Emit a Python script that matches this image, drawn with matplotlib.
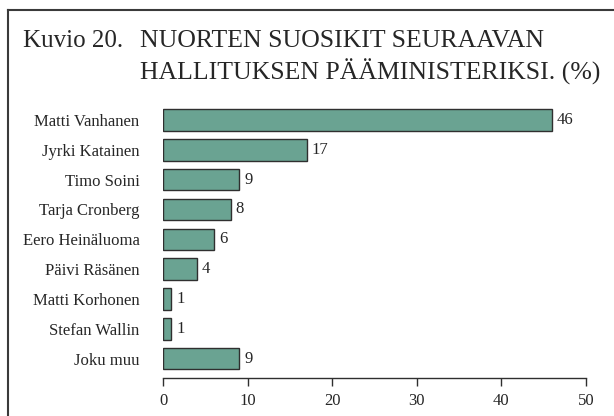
import matplotlib
matplotlib.use("Agg")
import matplotlib.pyplot as plt
from matplotlib.lines import Line2D

plt.rcParams["font.family"] = ["Liberation Serif", "DejaVu Serif"]

names = ["Matti Vanhanen", "Jyrki Katainen", "Timo Soini", "Tarja Cronberg",
         "Eero Heinäluoma", "Päivi Räsänen", "Matti Korhonen", "Stefan Wallin",
         "Joku muu"]
values = [46, 17, 9, 8, 6, 4, 1, 1, 9]
xticks = [0, 10, 20, 30, 40, 50]

BAR = "#6aa392"
EDGE = "#2f2f2f"
TXT = "#262626"

fig = plt.figure(figsize=(6.14, 4.16), dpi=100)
ax = fig.add_axes([0.2655, 0.0913, 0.6885, 0.667])

pos = list(range(len(names)))[::-1]
ax.barh(pos, values, height=0.72, color=BAR, edgecolor=EDGE, linewidth=1.0)
for p, v in zip(pos, values):
    ax.text(v + 0.6, p, str(v), va="center", ha="left", fontsize=12, color=TXT)

ax.set_yticks(pos)
ax.set_yticklabels(names, fontsize=12, color=TXT)
ax.tick_params(axis="y", length=0, pad=17)
ax.set_xlim(0, 50)
ax.set_ylim(-0.65, 8.65)
ax.set_xticks(xticks)
ax.set_xticklabels([str(t) for t in xticks], fontsize=12, color=TXT)
ax.tick_params(axis="x", direction="out", length=6, width=1, color=EDGE, pad=5)
for s in ("top", "right", "left"):
    ax.spines[s].set_visible(False)
ax.spines["bottom"].set_color(EDGE)
ax.spines["bottom"].set_linewidth(1)

# title
fig.text(23 / 614, 1 - 41 / 416, "Kuvio 20.", fontsize=18, color=TXT, va="center", ha="left")
fig.text(140 / 614, 1 - 41 / 416, "NUORTEN SUOSIKIT SEURAAVAN", fontsize=18.5, color=TXT,
         va="center", ha="left")
fig.text(140 / 614, 1 - 72 / 416, "HALLITUKSEN PÄÄMINISTERIKSI. (%)", fontsize=18.5, color=TXT,
         va="center", ha="left")

# frame (left and top edges)
fx, fy = 8 / 614, 1 - 10 / 416
fig.add_artist(Line2D([fx, fx], [0, fy], color="#3a3a3a", lw=1.5))
fig.add_artist(Line2D([fx, 1], [fy, fy], color="#3a3a3a", lw=1.5))

fig.savefig("out.png", dpi=100)
